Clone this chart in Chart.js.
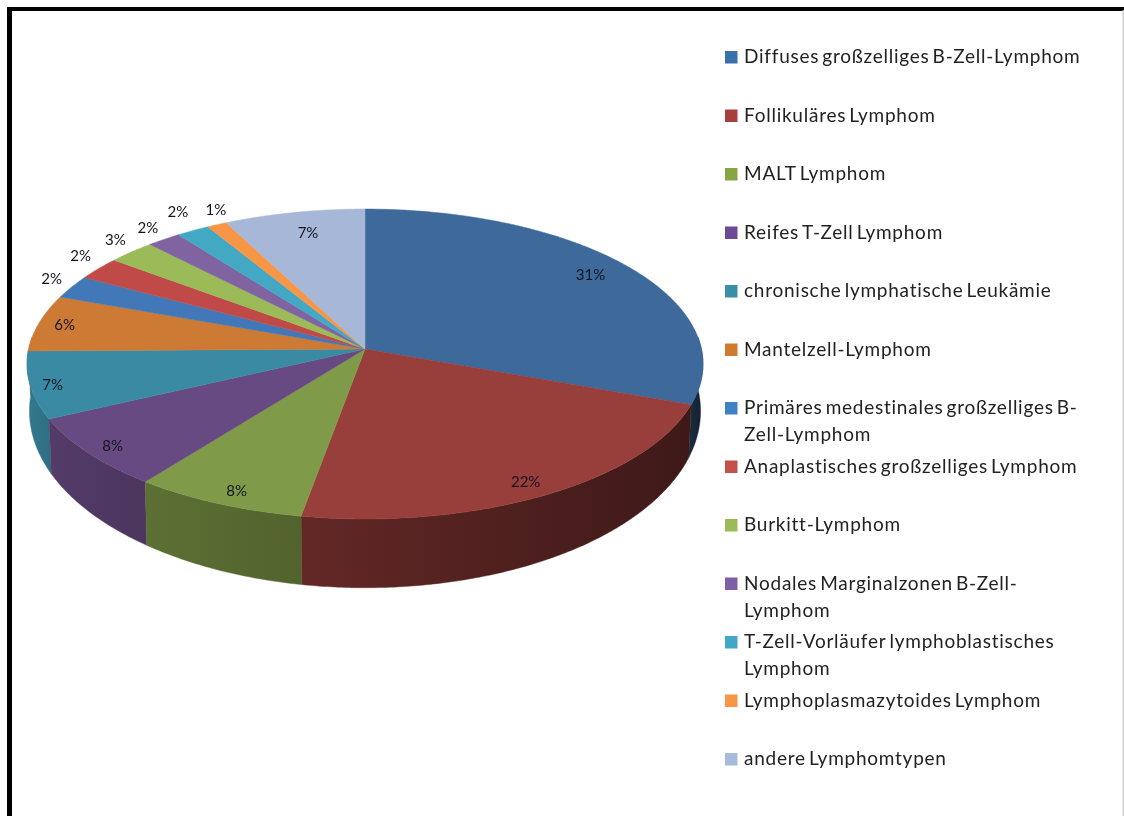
<!DOCTYPE html>
<html><head><meta charset="utf-8">
<style>html,body{margin:0;padding:0;background:#fff;overflow:hidden}canvas{display:block;filter:blur(0.65px)}</style>
<script src="https://cdn.jsdelivr.net/npm/chart.js@4"></script>
</head><body><canvas id="c" width="1124" height="816"></canvas>
<script>
const categories = ["Diffuses großzelliges B-Zell-Lymphom","Follikuläres Lymphom","MALT Lymphom","Reifes T-Zell Lymphom","chronische lymphatische Leukämie","Mantelzell-Lymphom","Primäres medestinales großzelliges B-Zell-Lymphom","Anaplastisches großzelliges Lymphom","Burkitt-Lymphom","Nodales Marginalzonen B-Zell-Lymphom","T-Zell-Vorläufer lymphoblastisches Lymphom","Lymphoplasmazytoides Lymphom","andere Lymphomtypen"];
const legendLines = [["Diffuses großzelliges B-Zell-Lymphom"],["Follikuläres Lymphom"],["MALT Lymphom"],["Reifes T-Zell Lymphom"],["chronische lymphatische Leukämie"],["Mantelzell-Lymphom"],["Primäres medestinales großzelliges B-","Zell-Lymphom"],["Anaplastisches großzelliges Lymphom"],["Burkitt-Lymphom"],["Nodales Marginalzonen B-Zell-","Lymphom"],["T-Zell-Vorläufer lymphoblastisches","Lymphom"],["Lymphoplasmazytoides Lymphom"],["andere Lymphomtypen"]];
const values = [30.7,22.05,7.55,7.5,7.0,5.9,2.4,2.4,2.5,1.8,1.75,1.05,7.4];
const percentLabels = ["31%","22%","8%","8%","7%","6%","2%","2%","3%","2%","2%","1%","7%"];
const colors = ["#3d699b","#983e3b","#7f9a48","#684a82","#3a8aa4","#cd7a35","#4378b8","#bf4a47","#9bbb59","#8064a2","#42a8c4","#f79646","#a7b7d8"];
const legendColors = ["#3a6fad","#a83f3c","#86a544","#6c4a95","#3a8fa8","#d07a30","#4080c4","#c4504c","#9bbb59","#7e5fa8","#40a8c4","#f79646","#a9bbdc"];
const labelRadii = [.85,.92,.92,.92,.94,.92,1,1,1,1,1,1,.85];
const labelShift = [[1,-3],[-6,0],[6,1],[1,2],[2,2],[0,0],[-20,-8],[-18,-12],[-16,-12],[-16,-11],[-15,-18],[-1,-15],[4,2]];

const K=-0.0968, TOP={cx:365,cy:349,a:153.5,b:336.4}, BOT={cx:365,cy:394,a:175,b:334};
function proj(m,t,r){ // t = clockwise from 12 o'clock
  const u=r*Math.sin(t), v=-r*Math.cos(t), d=1+K*v;
  return [m.cx+m.b*u/d, m.cy+m.a*v/d];
}
function rgb(hex){return [1,3,5].map(i=>parseInt(hex.substr(i,2),16));}
function shade(hex,f){const c=rgb(hex);return `rgb(${c.map(x=>Math.round(x*f)).join(',')})`;}
function sideFactor(t){const d=t*180/Math.PI;return Math.max(.34,Math.min(.9,.35+(d-90)/180*.53));}

const pie3d={
  id:'pie3d',
  beforeDraw(ch){
    const g=ch.ctx;
    g.save();
    g.fillStyle='#fff';g.fillRect(0,0,1124,816);
    g.fillStyle='#000';g.fillRect(7,7,1117,4);g.fillRect(7,7,5,809);
    g.fillStyle='#d0d0d0';g.fillRect(1122.5,10,1.5,806);
    g.restore();
  },
  beforeDatasetsDraw(ch){
    const g=ch.ctx, arcs=ch.getDatasetMeta(0).data;
    g.save();
    // side walls: one gradient-filled piece per slice, rear pieces first
    const vis0=Math.PI/2-0.08, vis1=3*Math.PI/2+0.08, walls=[];
    arcs.forEach((el,i)=>{
      const s=Math.max(el.startAngle+Math.PI/2,vis0), e=Math.min(el.endAngle+Math.PI/2,vis1);
      if(e>s) walls.push({i,s,e});
    });
    walls.sort((p,q)=>Math.cos((q.s+q.e)/2)-Math.cos((p.s+p.e)/2));
    walls.forEach(w=>{
      const n=Math.max(4,Math.ceil((w.e-w.s)/0.01));
      const a=proj(TOP,w.s,1), b=proj(TOP,w.e,1);
      const gr=g.createLinearGradient(a[0],0,b[0]+(b[0]===a[0]?1:0),0);
      gr.addColorStop(0,shade(colors[w.i],sideFactor(w.s)));
      gr.addColorStop(1,shade(colors[w.i],sideFactor(w.e)));
      g.fillStyle=gr;g.strokeStyle=gr;g.lineWidth=.4;
      g.beginPath();
      for(let j=0;j<=n;j++){const p=proj(TOP,w.s+(w.e-w.s)*j/n,1);j?g.lineTo(...p):g.moveTo(...p);}
      for(let j=n;j>=0;j--){g.lineTo(...proj(BOT,w.s+(w.e-w.s)*j/n,1));}
      g.closePath();g.fill();g.stroke();
    });
    // top faces
    arcs.forEach((el,i)=>{
      const s=el.startAngle+Math.PI/2, e=el.endAngle+Math.PI/2;
      const n=Math.max(4,Math.ceil((e-s)/0.01));
      g.fillStyle=colors[i];g.strokeStyle=colors[i];g.lineWidth=.5;
      g.beginPath();g.moveTo(TOP.cx,TOP.cy);
      for(let j=0;j<=n;j++){g.lineTo(...proj(TOP,s+(e-s)*j/n,1));}
      g.closePath();g.fill();g.stroke();
    });
    // percentage labels
    g.font='15px Lato';g.fillStyle='#14141f';g.textAlign='center';g.textBaseline='middle';
    arcs.forEach((el,i)=>{
      const t=(el.startAngle+el.endAngle)/2+Math.PI/2;
      const p=proj(TOP,t,labelRadii[i]);
      g.fillText(percentLabels[i],p[0]+labelShift[i][0],p[1]+labelShift[i][1]);
    });
    // legend
    g.textAlign='left';g.font='19px Lato';
    if('letterSpacing' in g){g.letterSpacing='0.75px';g.wordSpacing='-2.5px';}
    legendLines.forEach((lines,i)=>{
      const y=57+58.5*i;
      g.fillStyle=legendColors[i];g.fillRect(725,y-6,12.5,12.5);
      g.fillStyle='#222';
      lines.forEach((t,k)=>g.fillText(t,744,y+k*27));
    });
    g.restore();
    return false;
  }
};
new Chart(document.getElementById('c'),{
  type:'pie',
  data:{labels:categories,datasets:[{data:values,backgroundColor:colors,borderWidth:0}]},
  options:{responsive:false,animation:false,events:[],rotation:0,
    plugins:{legend:{display:false},tooltip:{enabled:false},title:{display:false}}},
  plugins:[pie3d]
});
</script></body></html>
